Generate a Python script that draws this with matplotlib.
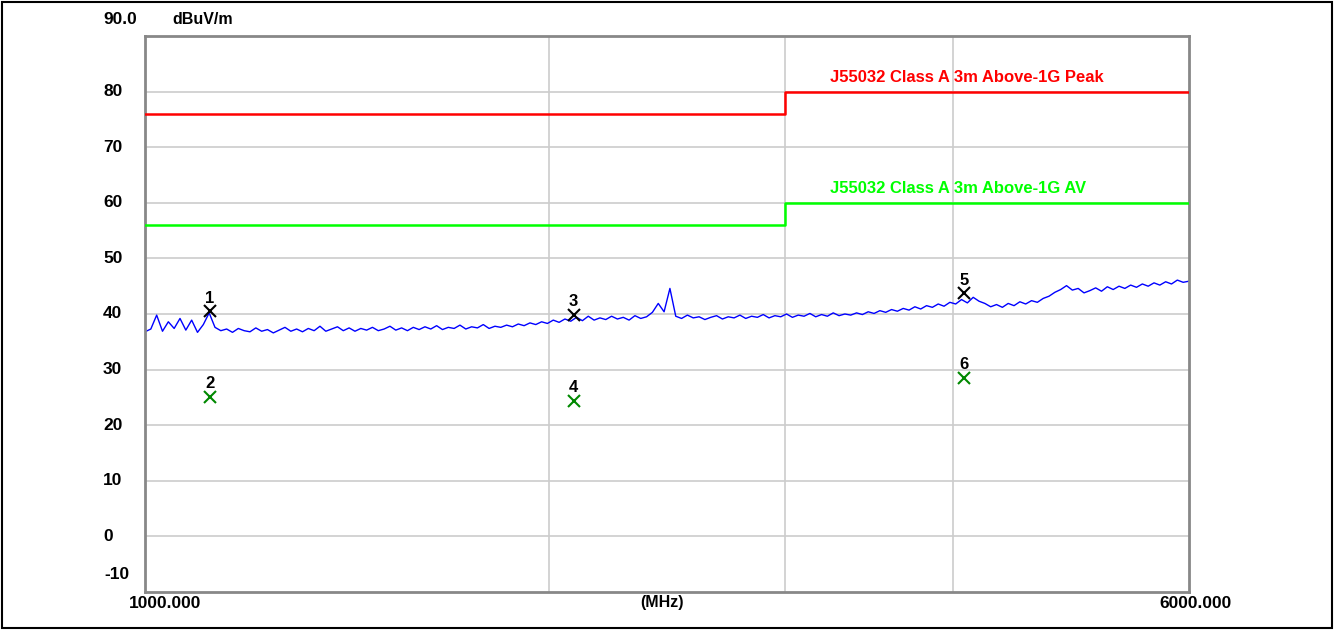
import numpy as np
import matplotlib
matplotlib.use('Agg')
import matplotlib.pyplot as plt
import matplotlib.transforms as mtransforms
from matplotlib.patches import Rectangle

plt.rcParams['font.family'] = ['Liberation Sans', 'DejaVu Sans']
plt.rcParams['font.weight'] = 'bold'

# --- dades ---
f_min, f_max = 1000.0, 6000.0
y_min, y_max = -10, 90
yticks = [0, 10, 20, 30, 40, 50, 60, 70, 80]
xgrid = [2000, 3000, 4000]

# limits (MHz, dBuV/m)
lim_freq = [1000, 3000, 3000, 6000]
lim_peak = [76, 76, 80, 80]
lim_av = [56, 56, 60, 60]
lim_peak_label = 'J55032 Class A 3m Above-1G Peak'
lim_av_label = 'J55032 Class A 3m Above-1G AV'

# traça mesurada (nivell llegit sobre l'escombrat)
trace_level = [
    36.8, 37.3, 39.8, 36.9, 38.6, 37.4, 39.2, 37.1, 38.9, 36.7,
    38.1, 40.2, 37.6, 37.0, 37.3, 36.7, 37.4, 37.0, 36.8, 37.5,
    36.9, 37.2, 36.6, 37.1, 37.6, 36.9, 37.3, 36.8, 37.4, 37.0,
    37.8, 36.9, 37.3, 37.7, 37.0, 37.5, 36.9, 37.4, 37.1, 37.6,
    37.0, 37.3, 37.8, 37.1, 37.5, 37.0, 37.6, 37.2, 37.7, 37.3,
    37.9, 37.2, 37.6, 37.4, 38.0, 37.3, 37.7, 37.5, 38.1, 37.4,
    37.8, 37.6, 38.0, 37.7, 38.2, 37.9, 38.4, 38.1, 38.6, 38.3,
    38.9, 38.5, 39.1, 38.7, 39.4, 38.8, 39.6, 38.9, 39.3, 39.0,
    39.6, 39.1, 39.4, 38.9, 39.7, 39.2, 39.5, 40.3, 41.9, 40.4,
    44.6, 39.6, 39.2, 39.8, 39.3, 39.5, 39.0, 39.4, 39.7, 39.1,
    39.5, 39.3, 39.8, 39.2, 39.6, 39.4, 39.9, 39.3, 39.7, 39.5,
    40.0, 39.4, 39.8, 39.6, 40.1, 39.5, 39.9, 39.6, 40.2, 39.7,
    40.0, 39.8, 40.2, 39.9, 40.4, 40.1, 40.6, 40.3, 40.8, 40.5,
    41.0, 40.7, 41.3, 40.9, 41.5, 41.2, 41.8, 41.4, 42.1, 41.8,
    42.6, 42.0, 43.0, 42.3, 41.9, 41.3, 41.7, 41.2, 41.9, 41.5,
    42.2, 41.8, 42.4, 42.1, 42.8, 43.2, 43.9, 44.4, 45.1, 44.3,
    44.6, 43.8, 44.2, 44.7, 44.1, 44.9, 44.4, 45.0, 44.6, 45.2,
    44.8, 45.4, 45.0, 45.6, 45.2, 45.8, 45.4, 46.1, 45.7, 45.9,
]
trace_freq = np.geomspace(f_min, f_max, len(trace_level))

# marcadors: 1,3,5 peak (negre) i 2,4,6 AV (verd)
mk_num = ['1', '2', '3', '4', '5', '6']
mk_freq = [1118, 1118, 2087, 2087, 4077, 4077]
mk_level = [40.5, 25.1, 39.9, 24.4, 43.7, 28.5]
mk_color = ['black', '#008800', 'black', '#008800', 'black', '#008800']

# --- figura ---
W, H = 1334, 630
fig = plt.figure(figsize=(W / 100, H / 100), dpi=100)
ax = fig.add_axes([145 / W, (H - 592) / H, (1189 - 145) / W, (592 - 36) / H])

ax.set_xscale('log')
ax.set_xlim(f_min, f_max)
ax.set_ylim(y_min, y_max)

for v in yticks:
    ax.axhline(v, color='#cccccc', lw=1.2, zorder=0)
for f in xgrid:
    ax.axvline(f, color='#cccccc', lw=1.2, zorder=0)

ax.plot(trace_freq, trace_level, color='#0000ff', lw=1.0, zorder=2)
ax.plot(lim_freq, lim_peak, color='#ff0000', lw=1.8, zorder=3)
ax.plot(lim_freq, lim_av, color='#00ff00', lw=1.8, zorder=3)

ax.text(3240, 81.2, lim_peak_label, color='#ff0000', fontsize=12, fontweight='bold', va='bottom')
ax.text(3240, 61.2, lim_av_label, color='#00ff00', fontsize=12, fontweight='bold', va='bottom')

for n, f, v, c in zip(mk_num, mk_freq, mk_level, mk_color):
    ax.plot(f, v, marker='x', color=c, ms=8, mew=1.5, zorder=4)
    ax.text(f, v + 1.0, n, color='black', fontsize=12, fontweight='bold', ha='center', va='bottom', zorder=4)

ax.set_xticks([])
ax.set_yticks([])
ax.minorticks_off()
for s in ax.spines.values():
    s.set_color('#888888')
    s.set_linewidth(2)

# etiquetes de l'eix y
trans = mtransforms.blended_transform_factory(fig.transFigure, ax.transData)
for v in yticks:
    ax.text(103 / W, v, str(v), transform=trans, fontsize=12.5, fontweight='bold', ha='left', va='center')
ax.text(104 / W, -6.8, '-10', transform=trans, fontsize=12.5, fontweight='bold', ha='left', va='center')
fig.text(103 / W, 1 - 20 / H, '90.0', fontsize=12.5, fontweight='bold', ha='left', va='center')
fig.text(172 / W, 1 - 20 / H, 'dBuV/m', fontsize=11.5, fontweight='bold', ha='left', va='center')

# etiquetes de l'eix x
fig.text(165 / W, 1 - 603 / H, '1000.000', fontsize=12.5, fontweight='bold', ha='center', va='center')
fig.text(662 / W, 1 - 603 / H, '(MHz)', fontsize=11.5, fontweight='bold', ha='center', va='center')
fig.text(1196 / W, 1 - 603 / H, '6000.000', fontsize=12.5, fontweight='bold', ha='center', va='center')

# marc exterior
fig.patches.append(Rectangle((2 / W, 2 / H), 1 - 4 / W, 1 - 4 / H, transform=fig.transFigure,
                             fill=False, edgecolor='black', lw=1.5))

fig.savefig('out.png', dpi=100)
